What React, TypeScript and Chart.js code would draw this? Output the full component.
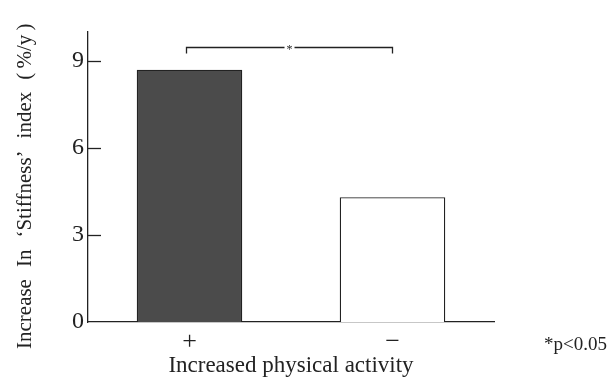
import React, { useEffect, useRef } from "react";
import { Chart, registerables } from "chart.js";

Chart.register(...registerables);

const categories = ["+", "\u2212"];
const values = [8.7, 4.3];
const yTicks = [0, 3, 6, 9];
const yTitleWords = ["Increase", "In", "\u2018Stiffness\u2019", "index", "(\u2009%/y\u2009)"];
const xTitle = "Increased physical activity";
const sigLabel = "*";
const noteLabel = "*p<0.05";
const bracketValue = 9.5;

const SERIF = "'Liberation Serif', 'DejaVu Serif', serif";

export default function App() {
  const ref = useRef<HTMLCanvasElement>(null);

  useEffect(() => {
    if (!ref.current) return;
    const annotations = {
      id: "annotations",
      afterDraw(chart: any) {
        const { ctx, scales } = chart;
        const x = scales.x;
        const y = scales.y;
        ctx.save();
        ctx.strokeStyle = "#222";
        ctx.lineWidth = 1.3;
        // inward tick marks
        yTicks.forEach((t) => {
          if (t === 0) return;
          const py = Math.round(y.getPixelForValue(t)) + 0.5;
          ctx.beginPath();
          ctx.moveTo(x.left, py);
          ctx.lineTo(x.left + 13, py);
          ctx.stroke();
        });
        // significance bracket
        const by = Math.round(y.getPixelForValue(bracketValue)) + 0.5;
        const x0 = x.getPixelForValue(0) - 3;
        const x1 = x.getPixelForValue(1);
        const mid = (x0 + x1) / 2;
        ctx.beginPath();
        ctx.moveTo(x0, by + 6);
        ctx.lineTo(x0, by);
        ctx.lineTo(mid - 5, by);
        ctx.moveTo(mid + 5, by);
        ctx.lineTo(x1, by);
        ctx.lineTo(x1, by + 6);
        ctx.stroke();
        ctx.fillStyle = "#222";
        ctx.font = `12px ${SERIF}`;
        ctx.textAlign = "center";
        ctx.textBaseline = "middle";
        ctx.fillText(sigLabel, mid, by + 2);
        // note
        ctx.font = `19px ${SERIF}`;
        ctx.textAlign = "left";
        ctx.textBaseline = "alphabetic";
        ctx.fillText(noteLabel, 544, 350);
        // y title, rotated, drawn word by word
        ctx.translate(25, 349);
        ctx.rotate(-Math.PI / 2);
        ctx.font = `21px ${SERIF}`;
        ctx.textBaseline = "middle";
        let pos = 0;
        yTitleWords.forEach((w) => {
          ctx.fillText(w, pos, 0);
          pos += ctx.measureText(w).width + 12;
        });
        ctx.restore();
      },
    };

    const chart = new Chart(ref.current, {
      type: "bar",
      data: {
        labels: categories,
        datasets: [
          {
            data: values,
            backgroundColor: ["#4b4b4b", "#ffffff"],
            borderColor: "#222",
            borderWidth: 1.3,
            borderSkipped: "bottom",
            barPercentage: 0.52,
            categoryPercentage: 1,
          },
        ],
      },
      options: {
        animation: false,
        responsive: false,
        maintainAspectRatio: false,
        layout: { padding: { left: 0, right: 118, top: 32, bottom: 0 } },
        plugins: { legend: { display: false }, tooltip: { enabled: false } },
        scales: {
          x: {
            grid: { display: false, drawTicks: false },
            border: { display: true, color: "#222", width: 1.3 },
            ticks: {
              color: "#222",
              padding: 5,
              font: { family: SERIF, size: 26 },
            },
            title: {
              display: true,
              text: xTitle,
              color: "#222",
              font: { family: SERIF, size: 23 },
              padding: { top: 0, bottom: 0 },
            },
            afterFit(scale: any) {
              scale.height = 58;
            },
          },
          y: {
            min: 0,
            max: 10,
            afterBuildTicks(scale: any) {
              scale.ticks = yTicks.map((v) => ({ value: v }));
            },
            grid: { display: false, drawTicks: false },
            border: { display: true, color: "#222", width: 1.3 },
            ticks: {
              color: "#222",
              padding: 4,
              font: { family: SERIF, size: 24 },
            },
            afterFit(scale: any) {
              scale.width = 88;
            },
          },
        },
      },
      plugins: [annotations],
    });
    return () => chart.destroy();
  }, []);

  return (
    <div style={{ position: "fixed", left: 0, top: 0, width: 612, height: 380, background: "#fff" }}>
      <canvas ref={ref} width={612} height={380} style={{ width: 612, height: 380 }} />
    </div>
  );
}
